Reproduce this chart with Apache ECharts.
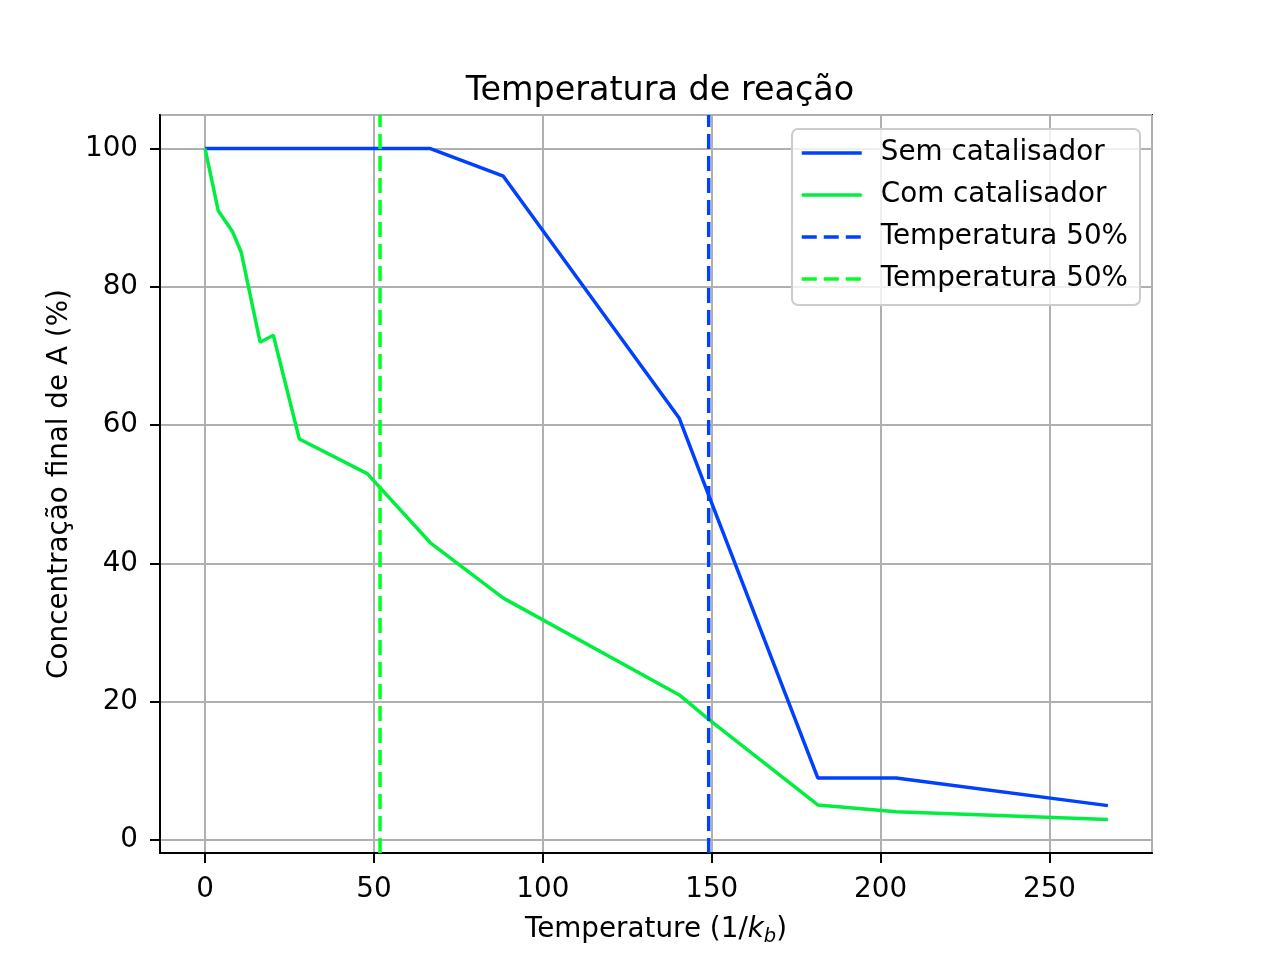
<!DOCTYPE html>
<html>
<head>
<meta charset="utf-8">
<script src="https://cdn.jsdelivr.net/npm/echarts@6/dist/echarts.min.js"></script>
<style>
  html, body { margin: 0; padding: 0; background: #fff; }
  #chart { width: 1280px; height: 960px; }
</style>
</head>
<body>
<div id="chart"></div>
<script>
// temperature values (1/k_b)
const temps = [0, 3.9, 8.1, 10.7, 16.3, 20.2, 27.9, 48.0, 66.7, 88.3, 140.4, 149.0, 181.4, 204.6, 267.3];
// final concentration of A (%)
const semCat = [100, 100, 100, 100, 100, 100, 100, 100, 100, 96, 61, 50, 9, 9, 5];
const comCat = [100, 91, 88, 85, 72, 73, 58, 53, 43, 35, 21, 17.5, 5.1, 4.1, 3];
// 50% temperatures
const t50Sem = 149.1;
const t50Com = 51.8;

const xMin = -13.35, xMax = 280.35;
const yMin = -1.85, yMax = 104.85;

const FONT = 'DejaVu Sans';
const FS = 27.8;
const BLUE = '#0040ff';
const GREEN = '#00ee40';
const GREEN_DASH = '#00ff22';

function pairs(xs, ys) {
  return xs.map((x, i) => [x, ys[i]]);
}

const chart = echarts.init(document.getElementById('chart'));

const option = {
  animation: false,
  backgroundColor: '#fff',
  textStyle: { fontFamily: FONT },
  title: {
    text: 'Temperatura de reação',
    left: 655,
    textAlign: 'center',
    top: 70,
    textStyle: { fontFamily: FONT, fontSize: 33.4, fontWeight: 'normal', color: '#000' }
  },
  grid: {
    left: 160, right: 128, top: 115, bottom: 107,
    show: true, borderColor: '#000', borderWidth: 2, backgroundColor: 'transparent'
  },
  legend: {
    left: 792, top: 129,
    orient: 'vertical',
    padding: [10, 12, 12, 8],
    itemWidth: 60, itemHeight: 4, itemGap: 14,
    itemStyle: { opacity: 0 },
    lineStyle: { width: 3.5 },
    backgroundColor: 'rgba(255,255,255,0.8)',
    borderColor: '#cccccc', borderWidth: 2, borderRadius: 6,
    textStyle: { fontFamily: FONT, fontSize: FS, color: '#000', padding: [0, 0, 0, 14], lineHeight: 28 },
    data: ['Sem catalisador', 'Com catalisador', 'Temperatura 50%', 'Temperatura 50%\u200B']
  },
  xAxis: {
    type: 'value', min: xMin, max: xMax,
    name: 'Temperature (1/{i|k}{sub|b})',
    nameLocation: 'middle', nameGap: 60,
    nameTextStyle: {
      fontFamily: FONT, fontSize: FS, color: '#000',
      rich: {
        i: { fontFamily: FONT, fontStyle: 'italic', fontSize: FS, color: '#000' },
        sub: { fontFamily: FONT, fontStyle: 'italic', fontSize: 19.5, color: '#000', verticalAlign: 'bottom', padding: [14, 0, 0, 0] }
      }
    },
    axisLine: { show: true, onZero: false, lineStyle: { color: '#000', width: 2 } },
    axisTick: { show: true, length: 10, inside: false, lineStyle: { color: '#000', width: 2 } },
    axisLabel: {
      fontFamily: FONT, fontSize: FS, color: '#000', margin: 23,
      showMinLabel: false, showMaxLabel: false,
      formatter: v => (Math.abs(v % 50) < 1e-6 ? String(v) : '')
    },
    splitLine: { show: true, lineStyle: { color: '#b0b0b0', width: 2 } }
  },
  yAxis: {
    type: 'value', min: yMin, max: yMax,
    name: 'Concentração final de A (%)',
    nameLocation: 'middle', nameGap: 84, nameRotate: 90,
    nameTextStyle: { fontFamily: FONT, fontSize: FS, color: '#000' },
    axisLine: { show: true, onZero: false, lineStyle: { color: '#000', width: 2 } },
    axisTick: { show: true, length: 10, inside: false, lineStyle: { color: '#000', width: 2 } },
    axisLabel: {
      fontFamily: FONT, fontSize: FS, color: '#000', margin: 22,
      showMinLabel: false, showMaxLabel: false,
      formatter: v => (Math.abs(v % 20) < 1e-6 ? String(v) : '')
    },
    splitLine: { show: true, lineStyle: { color: '#b0b0b0', width: 2 } }
  },
  series: [
    {
      name: 'Sem catalisador', type: 'line', symbol: 'none',
      data: pairs(temps, semCat),
      lineStyle: { color: BLUE, width: 3.5 }, itemStyle: { color: BLUE }
    },
    {
      name: 'Com catalisador', type: 'line', symbol: 'none',
      data: pairs(temps, comCat),
      lineStyle: { color: GREEN, width: 3.5 }, itemStyle: { color: GREEN }
    },
    {
      name: 'Temperatura 50%', type: 'line', symbol: 'none',
      data: [[t50Sem, yMin], [t50Sem, yMax]],
      lineStyle: { color: BLUE, width: 3.5, type: [15, 7] }, itemStyle: { color: BLUE }
    },
    {
      name: 'Temperatura 50%\u200B', type: 'line', symbol: 'none',
      data: [[t50Com, yMin], [t50Com, yMax]],
      lineStyle: { color: GREEN_DASH, width: 3.5, type: [15, 7] }, itemStyle: { color: GREEN_DASH }
    }
  ]
};

chart.setOption(option);
</script>
</body>
</html>
